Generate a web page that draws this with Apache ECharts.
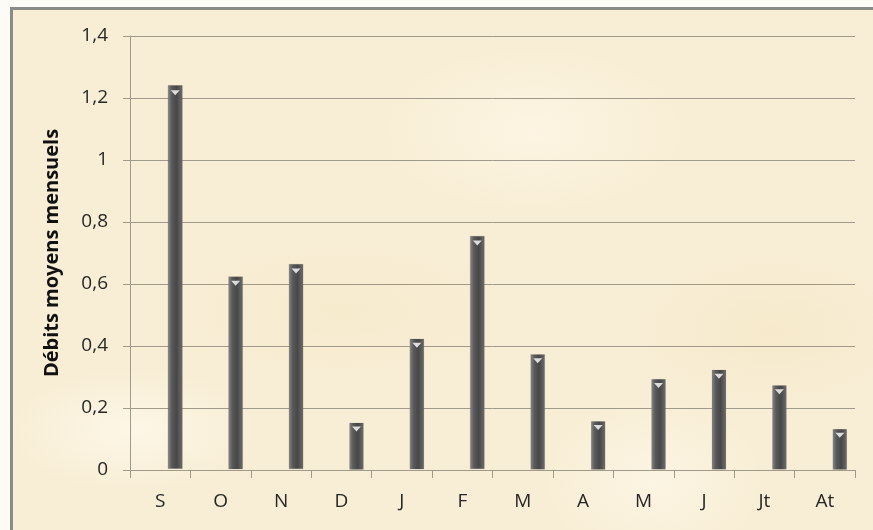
<!DOCTYPE html>
<html>
<head>
<meta charset="utf-8">
<script src="https://cdn.jsdelivr.net/npm/echarts@6/dist/echarts.min.js"></script>
<style>
  html, body { margin: 0; padding: 0; background: #fdfbf6; }
  #paper {
    position: absolute; left: 10px; top: 7px; width: 870px; height: 520px;
    border-left: 3px solid #8a8a88; border-top: 3px solid #8a8a88;
    border-bottom: 1px solid #d8d2c4;
    background:
      radial-gradient(ellipse 180px 90px at 120px 420px, rgba(255,250,238,0.7), rgba(255,250,238,0) 70%),
      radial-gradient(ellipse 220px 120px at 520px 120px, rgba(255,249,235,0.6), rgba(255,249,235,0) 70%),
      radial-gradient(ellipse 200px 110px at 760px 320px, rgba(244,228,192,0.45), rgba(244,228,192,0) 70%),
      radial-gradient(ellipse 240px 100px at 330px 300px, rgba(245,230,194,0.4), rgba(245,230,194,0) 70%),
      radial-gradient(ellipse 160px 120px at 640px 470px, rgba(255,250,238,0.55), rgba(255,250,238,0) 70%),
      #f8eed5;
  }
  #chart { position: absolute; left: 0; top: 0; width: 873px; height: 530px; }
</style>
</head>
<body>
<div id="paper"></div>
<div id="chart"></div>
<script>
// Monthly mean discharge, hydrological year September → August
const months = ['S', 'O', 'N', 'D', 'J', 'F', 'M', 'A', 'M', 'J', 'Jt', 'At'];
const debits = [1.235, 0.62, 0.66, 0.15, 0.42, 0.75, 0.37, 0.155, 0.29, 0.32, 0.27, 0.13];
const yTicks = { min: 0, max: 1.4, step: 0.2 };
const yTitle = 'Débits moyens mensuels';

const FONT = '"Open Sans", "Liberation Sans", sans-serif';
const GRID_COLOR = '#a09a8a';

const chart = echarts.init(document.getElementById('chart'), null, { renderer: 'canvas' });

const barFill = new echarts.graphic.LinearGradient(0, 0, 1, 0, [
  { offset: 0, color: '#868686' },
  { offset: 0.25, color: '#5a5a5a' },
  { offset: 0.6, color: '#474747' },
  { offset: 1, color: '#6c6c6c' }
]);

chart.setOption({
  animation: false,
  backgroundColor: 'transparent',
  grid: { left: 130, right: 18, top: 36, bottom: 60 },
  xAxis: {
    type: 'category',
    data: months,
    boundaryGap: true,
    axisLine: { lineStyle: { color: GRID_COLOR, width: 1 } },
    axisTick: { show: true, length: 8, lineStyle: { color: GRID_COLOR } },
    axisLabel: { color: '#262626', fontFamily: FONT, fontSize: 19, margin: 22 }
  },
  yAxis: {
    type: 'value',
    min: yTicks.min,
    max: yTicks.max,
    interval: yTicks.step,
    name: yTitle,
    nameLocation: 'middle',
    nameGap: 68,
    nameRotate: 90,
    nameTextStyle: { color: '#111', fontFamily: FONT, fontSize: 20, fontWeight: 'bold' },
    axisLine: { show: true, lineStyle: { color: GRID_COLOR, width: 1 } },
    axisTick: { show: true, length: 7, lineStyle: { color: GRID_COLOR } },
    splitLine: { show: true, lineStyle: { color: GRID_COLOR, width: 1 } },
    axisLabel: {
      color: '#262626', fontFamily: FONT, fontSize: 19, margin: 22,
      formatter: v => String(+v.toFixed(1)).replace('.', ',')
    }
  },
  series: [
    {
      // cylinder body, shifted to the right half of each category slot
      type: 'pictorialBar',
      data: debits,
      symbol: 'rect',
      symbolSize: [14, '100%'],
      symbolOffset: [15, 0],
      symbolPosition: 'start',
      itemStyle: { color: barFill, borderColor: '#3e3e3e', borderWidth: 0.6 },
      z: 3
    },
    {
      // pale notch on the top of each cylinder
      type: 'pictorialBar',
      data: debits,
      symbol: 'path://M0,0 L10,0 L5,6 Z',
      symbolSize: [9, 5],
      symbolPosition: 'end',
      symbolOffset: [15, 3],
      itemStyle: { color: '#dcdcdc' },
      z: 4
    }
  ]
});
</script>
</body>
</html>
